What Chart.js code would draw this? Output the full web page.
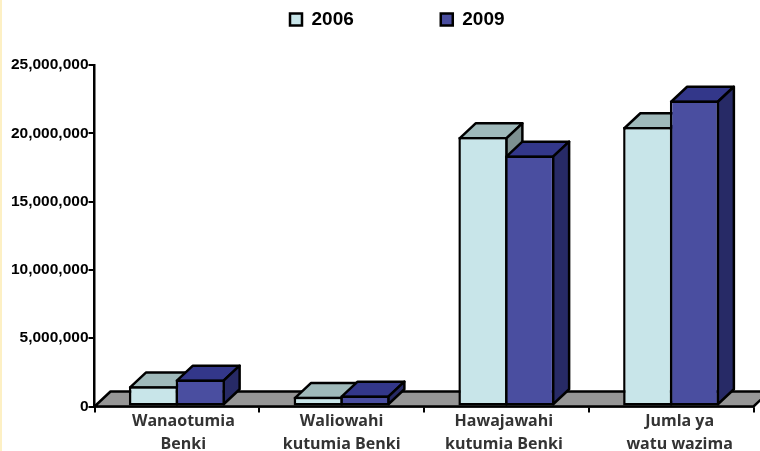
<!DOCTYPE html>
<html>
<head>
<meta charset="utf-8">
<style>
html,body{margin:0;padding:0;background:#fff;}
#stripe{position:absolute;left:0;top:0;width:2px;height:451px;background:#fdf0c4;}
canvas{position:absolute;left:0;top:0;}
</style>
<script src="https://cdn.jsdelivr.net/npm/chart.js@4/dist/chart.umd.min.js"></script>
</head>
<body>
<div id="stripe"></div>
<canvas id="c" width="760" height="451"></canvas>
<script>
const categories = [["Wanaotumia","Benki"],["Waliowahi","kutumia Benki"],["Hawajawahi","kutumia Benki"],["Jumla ya","watu wazima"]];
const series2006 = [1490000, 710000, 19720000, 20460000];
const series2009 = [1980000, 810000, 18380000, 22400000];
const seriesNames = ["2006", "2009"];
const labelNudge = [6.5, 0, -2.5, 8.5];

const DX = 16, DY = 15, LW = 2.5;
const shades = [
  {top:"#9fb9ba", side:"#7d9090"},
  {top:"#33378a", side:"#272a66"}
];

function face(ctx, pts, fill){
  ctx.beginPath();
  pts.forEach((p,i)=> i ? ctx.lineTo(p[0],p[1]) : ctx.moveTo(p[0],p[1]));
  ctx.closePath();
  ctx.fillStyle = fill;
  ctx.fill();
  ctx.stroke();
}

const box3d = {
  id:"box3d",
  afterLayout(chart){
    const lg = chart.legend;
    const pad = lg.options.labels.padding;
    lg.top = 10 - pad;
    lg.left = 290 - pad;
    lg.right = 760;
    lg.adjustHitBoxes();
    const sx = chart.scales.x;
    if (!sx._wrapped){
      const items = sx._computeLabelItems.bind(sx);
      sx._computeLabelItems = function(area){
        return items(area).map((it,i)=>{ it.options.translation[0] += labelNudge[i]; return it; });
      };
      sx._wrapped = true;
      sx._labelItems = null;
    }
  },
  beforeLayout(chart){
    const lg = chart.legend;
    if (lg && !lg._wrapped){
      const fit = lg.fit.bind(lg);
      lg.fit = function(){ fit(); this.height = 1; };
      lg._wrapped = true;
    }
  },
  beforeDatasetsDraw(chart){
    const {ctx, chartArea:a} = chart;
    ctx.save();
    ctx.strokeStyle = "#000";
    ctx.lineWidth = LW;
    ctx.lineJoin = "round";
    face(ctx, [[a.left,a.bottom],[a.left+DX,a.bottom-DY],[a.right+DX,a.bottom-DY],[a.right,a.bottom]], "#969696");
    chart.data.datasets.forEach((ds, i)=>{
      const s = shades[i];
      const meta = chart.getDatasetMeta(i);
      meta.data.forEach(bar=>{
        const p = bar.getProps(["x","y","base","width"], true);
        const l = p.x - p.width/2 + LW/2, r = p.x + p.width/2 - LW/2, t = p.y + LW/2, b = p.base - LW/2;
        ctx.strokeStyle = "#000";
        ctx.lineWidth = LW;
        ctx.lineJoin = "round";
        face(ctx, [[l,t],[l+DX,t-DY],[r+DX,t-DY],[r,t]], s.top);
        face(ctx, [[r,t],[r+DX,t-DY],[r+DX,b-DY],[r,b]], s.side);
        bar.draw(ctx, a);
      });
    });
    ctx.restore();
    return false;
  }
};

new Chart(document.getElementById("c"), {
  type:"bar",
  plugins:[box3d],
  data:{
    labels:categories,
    datasets:[
      {label:seriesNames[0], data:series2006, backgroundColor:"#c8e5e9", borderColor:"#000", borderWidth:LW, borderSkipped:false},
      {label:seriesNames[1], data:series2009, backgroundColor:"#4a4ea0", borderColor:"#000", borderWidth:LW, borderSkipped:false}
    ]
  },
  options:{
    responsive:false,
    animation:false,
    layout:{padding:{top:64,right:6.5,left:0,bottom:0}},
    datasets:{bar:{categoryPercentage:0.5675,barPercentage:1.0535}},
    plugins:{
      tooltip:{enabled:false},
      legend:{
        position:"top",
        align:"start",
        labels:{
          boxWidth:12,boxHeight:12,padding:87,color:"#000",
          font:{family:'"Liberation Sans"',weight:"bold",size:19}
        }
      }
    },
    scales:{
      x:{
        afterFit(s){s.height=44.5;},
        grid:{drawOnChartArea:false,drawTicks:true,tickLength:6,color:"#000",lineWidth:2},
        border:{color:"#000",width:2.5},
        ticks:{
          autoSkip:false,maxRotation:0,minRotation:0,padding:-2,color:"#333",
          font:{family:'"Open Sans"',weight:"bold",size:16,lineHeight:1.42}
        }
      },
      y:{
        min:0,max:25000000,
        afterFit(s){s.width=94.5;},
        grid:{drawOnChartArea:false,drawTicks:true,tickLength:6,color:"#000",lineWidth:2},
        border:{color:"#000",width:2.5},
        ticks:{
          stepSize:5000000,padding:0,color:"#000",
          font:{family:'"Liberation Sans"',weight:"bold",size:15.5},
          callback:v=>v.toLocaleString("en-US")
        }
      }
    }
  }
});
</script>
</body>
</html>
